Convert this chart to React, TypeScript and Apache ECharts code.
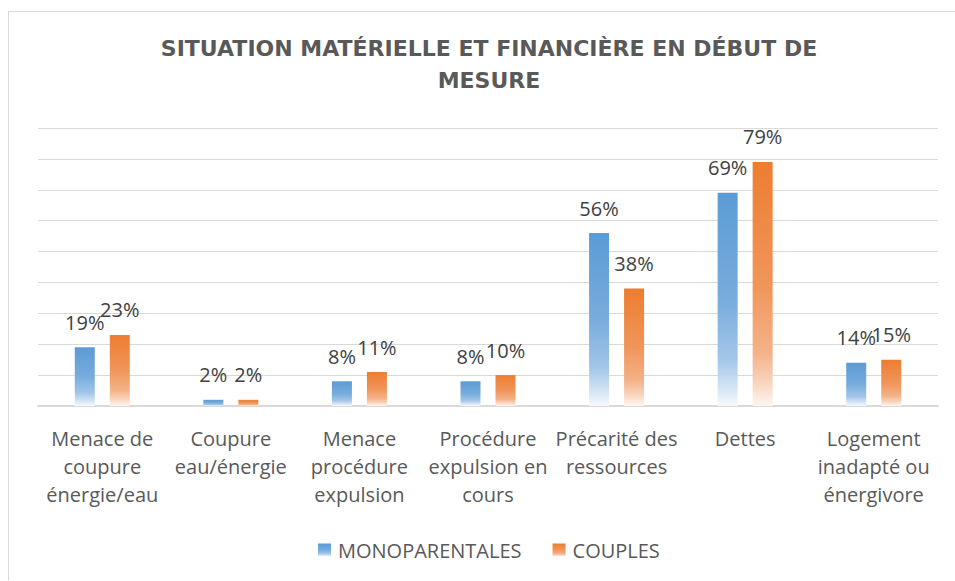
import React, { useEffect, useRef } from "react";
import * as echarts from "echarts";

const titleText = "SITUATION MATÉRIELLE ET FINANCIÈRE EN DÉBUT DE\nMESURE";
const categories = [
  "Menace de\ncoupure\nénergie/eau",
  "Coupure\neau/énergie",
  "Menace\nprocédure\nexpulsion",
  "Procédure\nexpulsion en\ncours",
  "Précarité des\nressources",
  "Dettes",
  "Logement\ninadapté ou\nénergivore",
];
const seriesNames = ["MONOPARENTALES", "COUPLES"];
const monoparentales = [19, 2, 8, 8, 56, 69, 14];
const couples = [23, 2, 11, 10, 38, 79, 15];
const yMax = 90;
const yInterval = 10;

function grad(stops: string[]) {
  const pos = [0, 0.5, 0.78, 0.9, 1];
  return new echarts.graphic.LinearGradient(
    0, 0, 0, 1,
    stops.map((c, i) => ({ offset: pos[i], color: c }))
  );
}

const blueGrad = ["#5B9BD5", "#78ACDC", "#A3C6E8", "#CFE1F3", "#F6FAFD"];
const orangeGrad = ["#ED7D31", "#F0955A", "#F4B287", "#F8D3BA", "#FEF6F1"];

export default function App() {
  const ref = useRef<HTMLDivElement>(null);
  useEffect(() => {
    if (!ref.current) return;
    const chart = echarts.init(ref.current, undefined, { renderer: "svg" });
    const labelStyle = {
      show: true,
      position: "top" as const,
      distance: 15,
      formatter: "{c}%",
      color: "#404040",
      fontFamily: "Open Sans",
      fontSize: 20,
    };
    chart.setOption({
      animation: false,
      backgroundColor: "#ffffff",
      title: {
        text: titleText,
        left: 475,
        top: 15,
        textAlign: "center",
        textStyle: {
          fontFamily: "DejaVu Sans",
          fontWeight: "bold",
          fontSize: 22,
          lineHeight: 32,
          color: "#595959",
        },
      },
      legend: {
        left: 304,
        top: 523,
        itemWidth: 13,
        itemHeight: 13,
        itemGap: 31,
        icon: "rect",
        textStyle: {
          fontFamily: "Open Sans",
          fontSize: 20,
          color: "#595959",
          padding: [0, 0, 0, 2],
        },
        data: seriesNames,
      },
      grid: { left: 29, right: 17, top: 116, bottom: 174, containLabel: false },
      xAxis: {
        type: "category",
        data: categories,
        axisLine: { lineStyle: { color: "#d9d9d9", width: 2 } },
        axisTick: { show: false },
        axisLabel: {
          interval: 0,
          margin: 18,
          fontFamily: "Open Sans",
          fontSize: 20,
          lineHeight: 28,
          color: "#595959",
          align: "center",
        },
      },
      yAxis: {
        type: "value",
        min: 0,
        max: yMax,
        interval: yInterval,
        axisLabel: { show: false },
        axisLine: { show: false },
        axisTick: { show: false },
        splitLine: { lineStyle: { color: "#d9d9d9", width: 1 } },
      },
      series: [
        {
          name: seriesNames[0],
          type: "bar",
          data: monoparentales,
          barWidth: 20,
          barGap: "75%",
          itemStyle: { color: grad(blueGrad) },
          label: labelStyle,
        },
        {
          name: seriesNames[1],
          type: "bar",
          data: couples,
          barWidth: 20,
          barGap: "75%",
          itemStyle: { color: grad(orangeGrad) },
          label: labelStyle,
        },
      ],
    });
    return () => chart.dispose();
  }, []);
  return (
    <div
      style={{
        position: "absolute",
        left: 8,
        top: 11,
        width: 947,
        height: 569,
        boxSizing: "border-box",
        borderLeft: "1px solid #d9d9d9",
        borderTop: "1px solid #d9d9d9",
        background: "#ffffff",
      }}
    >
      <div ref={ref} style={{ width: 946, height: 568 }} />
    </div>
  );
}
